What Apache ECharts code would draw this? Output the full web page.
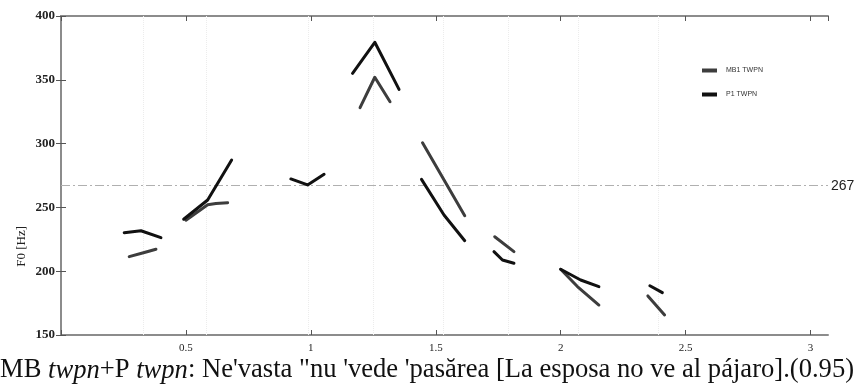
<!DOCTYPE html>
<html>
<head>
<meta charset="utf-8">
<script src="https://cdn.jsdelivr.net/npm/echarts@6/dist/echarts.min.js"></script>
<style>
html,body{margin:0;padding:0;background:#fff;}
#chart{width:860px;height:387px;}
</style>
</head>
<body>
<div id="chart"></div>
<script>
// Series names
var seriesNames = ['MB1 TWPN', 'P1 TWPN'];

// MB1 TWPN contour segments [time (s), F0 (Hz)]
var mb1Segments = [
  [[0.273, 211.4], [0.33, 214.5], [0.38, 217.2]],
  [[0.50, 240.0], [0.587, 252.0], [0.62, 253.0], [0.667, 253.7]],
  [[1.197, 328.2], [1.256, 352.0], [1.317, 332.8]],
  [[1.447, 300.7], [1.616, 243.5]],
  [[1.736, 227.0], [1.813, 215.3]],
  [[2.0, 201.5], [2.067, 188.0], [2.153, 173.5]],
  [[2.349, 180.6], [2.416, 165.7]]
];

// P1 TWPN contour segments [time (s), F0 (Hz)]
var p1Segments = [
  [[0.253, 230.2], [0.32, 231.7], [0.40, 226.3]],
  [[0.491, 240.7], [0.587, 255.8], [0.683, 287.1]],
  [[0.92, 272.3], [0.987, 267.6], [1.053, 276.0]],
  [[1.167, 355.1], [1.256, 379.4], [1.353, 342.5]],
  [[1.443, 272.0], [1.533, 244.0], [1.616, 223.9]],
  [[1.733, 215.3], [1.767, 208.8], [1.813, 206.2]],
  [[2.0, 201.5], [2.08, 193.1], [2.153, 187.9]],
  [[2.357, 188.6], [2.407, 183.2]]
];

// Reference line value and syllable boundaries
var refLine = 267;
var boundaries = [0.332, 0.58, 0.992, 1.252, 1.532, 1.788, 2.072, 2.388];

// Axis ranges / ticks
var xMin = 0, xMax = 3.07, xInterval = 0.5;
var yMin = 150, yMax = 400, yInterval = 50;

var captionParts = ['MB ', 'twpn', '+P ', 'twpn', ': Ne\'vasta "nu \'vede \'pasărea [La esposa no ve al pájaro].(0.95)'];

function joinSegments(segs) {
  var out = [];
  segs.forEach(function (s, i) {
    if (i > 0) out.push([s[0][0] - 0.001, '-']);
    s.forEach(function (p) { out.push(p); });
  });
  return out;
}

var serif = '"Liberation Serif", "DejaVu Serif", serif';
var sans = '"Liberation Sans", Arial, sans-serif';

var chart = echarts.init(document.getElementById('chart'));

var axisLineStyle = { color: '#8c8c8c', width: 2 };
var tickStyle = { color: '#555', width: 1 };

var option = {
  animation: false,
  backgroundColor: '#fff',
  grid: { left: 61, right: 32, top: 16, bottom: 52, containLabel: false },
  title: {
    text: '{n|' + captionParts[0] + '}{i|' + captionParts[1] + '}{n|' + captionParts[2] + '}{i|' + captionParts[3] + '}{n|' + captionParts[4] + '}',
    left: 0,
    top: 357,
    padding: 0,
    textStyle: {
      fontWeight: 'normal',
      rich: {
        n: { fontFamily: serif, fontSize: 26.6, fontWeight: 'normal', color: '#111' },
        i: { fontFamily: serif, fontSize: 26.6, fontWeight: 'normal', fontStyle: 'italic', color: '#111' }
      }
    }
  },
  legend: {
    orient: 'vertical',
    left: 697,
    top: 62,
    itemWidth: 15,
    itemHeight: 4,
    itemGap: 17,
    icon: 'rect',
    data: seriesNames,
    textStyle: { fontFamily: sans, fontSize: 7, color: '#333', padding: [0, 0, 0, 4] }
  },
  graphic: [{
    type: 'text',
    left: 15,
    top: 226,
    rotation: Math.PI / 2,
    style: { text: 'F0 [Hz]', font: '13px ' + serif, fill: '#222' }
  }],
  xAxis: [{
    type: 'value', min: xMin, max: xMax, interval: xInterval,
    axisLine: { lineStyle: axisLineStyle },
    axisTick: { inside: true, length: 5, lineStyle: tickStyle },
    splitLine: { show: false },
    axisLabel: {
      margin: 8, showMaxLabel: false,
      fontFamily: serif, fontSize: 11, color: '#222',
      formatter: function (v) { return v === 0 ? '' : String(v); }
    }
  }, {
    type: 'value', min: xMin, max: xMax, interval: xInterval, position: 'top',
    axisLine: { show: true, lineStyle: axisLineStyle },
    axisTick: { inside: true, length: 5, lineStyle: tickStyle },
    splitLine: { show: false },
    axisLabel: { show: false }
  }],
  yAxis: [{
    type: 'value', min: yMin, max: yMax, interval: yInterval,
    axisLine: { show: true, lineStyle: axisLineStyle },
    axisTick: { show: true, inside: true, length: 5, lineStyle: tickStyle },
    splitLine: { show: false },
    axisLabel: { margin: 6, fontFamily: serif, fontWeight: 'bold', fontSize: 13, color: '#222' }
  }, {
    type: 'value', min: yMin, max: yMax, interval: yInterval, position: 'right',
    axisLine: { show: true, lineStyle: axisLineStyle },
    axisTick: { show: true, inside: true, length: 5, lineStyle: tickStyle },
    splitLine: { show: false },
    axisLabel: { show: false }
  }],
  series: [{
    name: '__guides',
    type: 'line',
    data: [],
    silent: true,
    z: 1,
    markLine: {
      silent: true,
      symbol: 'none',
      z: 1,
      label: { show: false },
      lineStyle: { color: '#ececec', type: 'dotted', width: 1 },
      data: boundaries.map(function (b) { return { xAxis: b }; })
    }
  }, {
    name: '__ref',
    type: 'line',
    data: [],
    silent: true,
    z: 1,
    markLine: {
      silent: true,
      symbol: 'none',
      z: 1,
      lineStyle: { color: '#b0b0b0', type: [9, 3, 2, 3], width: 1 },
      label: { show: true, position: 'end', formatter: String(refLine), fontFamily: sans, fontSize: 14, color: '#222', distance: 3 },
      data: [{ yAxis: refLine }]
    }
  }, {
    name: seriesNames[0],
    type: 'line',
    z: 5,
    data: joinSegments(mb1Segments),
    showSymbol: false,
    connectNulls: false,
    color: '#3d3d3d',
    lineStyle: { color: '#3d3d3d', width: 3, cap: 'round', join: 'round' }
  }, {
    name: seriesNames[1],
    type: 'line',
    z: 6,
    data: joinSegments(p1Segments),
    showSymbol: false,
    connectNulls: false,
    color: '#111111',
    lineStyle: { color: '#111111', width: 3, cap: 'round', join: 'round' }
  }]
};

chart.setOption(option);
</script>
</body>
</html>
